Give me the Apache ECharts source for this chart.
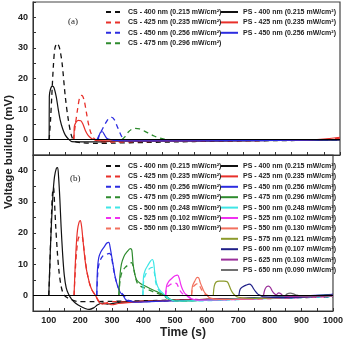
<!DOCTYPE html>
<html>
<head>
<meta charset="utf-8">
<script src="https://cdn.jsdelivr.net/npm/echarts@6/dist/echarts.min.js"></script>
<style>
  html, body { margin: 0; padding: 0; background: #fff; }
  #chart { width: 346px; height: 340px; }
</style>
</head>
<body>
<div id="chart"></div>
<script>
// x ticks / y ticks
const xTicks = [100, 200, 300, 400, 500, 600, 700, 800, 900, 1000]
const yTicks = [0, 10, 20, 30, 40]

// ---- panel (a) ----
const csA400 = [[100,0],[104,6],[108,14],[113,24],[118,30],[125,31.5],[132,30],[140,25],[150,14],[160,6],[170,1],[180,-0.6],[200,-1],[250,-1.2],[300,-1.1],[400,-0.9],[500,-0.7],[600,-0.5],[700,-0.4],[800,-0.3],[900,-0.2],[1000,0]]
const psA400 = [[100,0],[100.5,14],[104,16.5],[110,17.5],[115,17],[122,14],[128,10],[134,6.5],[142,3.5],[150,1.5],[160,0.2],[170,-0.6],[240,-0.7],[300,-0.5],[500,-0.4],[700,-0.3],[1000,-0.1]]
const csA425 = [[175,0],[180,4],[188,10],[195,14],[201,14.5],[208,13],[215,9],[222,5],[230,2],[240,0.3],[250,-0.5],[300,-0.8],[400,-0.6],[600,-0.4],[800,-0.2],[950,0],[1000,0.5]]
const psA425 = [[177,0],[177.5,4],[182,5.5],[190,6.3],[198,6.2],[205,5],[212,3],[220,1.5],[230,0.5],[240,0],[250,-0.3],[400,-0.4],[600,-0.3],[900,-0.1],[1000,0.8]]
const csA450 = [[248,0],[255,1.5],[265,3.5],[275,5.5],[285,7],[294,7.3],[302,6.5],[310,4.5],[318,2.5],[326,0.8],[335,0],[350,-0.3],[500,-0.4],[700,-0.3],[1000,-0.1]]
const psA450 = [[252,0],[255,1.5],[260,2.5],[265,2.6],[270,1.8],[278,0.5],[290,0],[310,-0.3],[500,-0.4],[800,-0.2],[1000,0]]
const csA475 = [[325,0],[335,1],[345,2.5],[355,3.4],[365,3.7],[380,3.5],[395,2.8],[410,2],[425,1.2],[440,0.6],[460,0.1],[480,-0.2],[600,-0.3],[800,-0.2],[1000,0]]

// ---- panel (b) ----
const csB400 = [[100,0],[103,8],[106,18],[109,27],[112,33],[115,34.5],[118,30],[122,22],[127,14],[132,8],[138,3.5],[145,0.8],[155,-0.5],[175,-1.5],[195,-2],[240,-2],[300,-1.9],[400,-1.7],[600,-1.3],[800,-0.9],[1000,-0.5]]
const psB400 = [[100,0],[104,12],[108,22],[113,32],[118,38],[124,40.7],[128,41],[131,38],[135,31],[139,22],[144,13],[149,6.5],[155,2.5],[162,0.5],[172,-1.2],[185,-2.5],[200,-3.5],[215,-4.2],[228,-4.5],[242,-4],[255,-3],[270,-2.5],[285,-2.8],[300,-2.6],[330,-2.2],[400,-1.9],[500,-1.6],[600,-1.3],[700,-1],[800,-0.7],[900,-0.4],[1000,-0.1]]
const csB425 = [[180,0],[184,8],[188,14],[193,18],[198,19],[205,19],[210,16],[216,11],[222,7],[230,3.5],[238,1.5],[248,0],[260,-2],[280,-2.5],[300,-2],[350,-2],[400,-1.8],[600,-1.3],[800,-0.8],[1000,-0.3]]
const psB425 = [[180,0],[183,8],[187,16],[191,21],[196,23.5],[200,24],[204,22],[208,18],[213,13],[218,9],[224,6],[230,3.5],[238,1.5],[248,0],[258,-2],[270,-2.8],[285,-2.5],[300,-3],[320,-2.6],[350,-2.3],[400,-2],[500,-1.6],[600,-1.3],[700,-1],[800,-0.7],[900,-0.3],[1000,0]]
const csB450 = [[252,0],[255,7],[260,10.5],[270,12.5],[280,13],[292,13.5],[298,12.5],[304,9],[310,6],[318,3],[328,1],[338,0],[350,-1.5],[400,-2],[500,-1.7],[600,-1.4],[800,-0.9],[1000,-0.3]]
const psB450 = [[252,0],[254,8],[258,12],[265,14],[275,15.5],[284,16.8],[290,17],[295,15],[300,12],[305,9],[311,5.5],[318,3],[326,1],[335,0],[345,-1.5],[360,-2],[380,-2.2],[420,-2],[500,-1.7],[600,-1.4],[700,-1],[800,-0.6],[900,-0.2],[1000,0.3]]
const csB475 = [[322,0],[326,5],[332,7.5],[342,9],[352,9.8],[362,10.5],[368,9],[374,6],[380,4],[390,3],[405,2.3],[420,1.6],[440,0.8],[460,0],[480,-1.2],[520,-1.8],[600,-1.5],[800,-0.8],[1000,-0.2]]
const psB475 = [[322,0],[325,6],[330,10],[338,12.5],[348,14],[358,15],[363,14.5],[367,10],[372,7],[378,5],[390,3.8],[405,3],[420,2.2],[440,1.3],[460,0.4],[475,-0.5],[490,-1.5],[520,-1.8],[600,-1.5],[700,-1.1],[800,-0.7],[900,-0.3],[1000,0.2]]
const csB500 = [[398,0],[401,5],[408,7],[418,8.5],[428,9],[434,7.5],[439,4],[446,2],[456,0.8],[466,0],[480,-1.2],[500,-1.8],[600,-1.7],[800,-1],[1000,-0.4]]
const psB500 = [[398,0],[400,6],[405,8],[413,9.5],[422,11],[428,11.5],[432,10.5],[436,7],[441,4],[448,2.2],[458,1],[468,0],[480,-1],[500,-1.8],[600,-1.6],[700,-1.2],[800,-0.8],[900,-0.4],[1000,-0.1]]
const csB525 = [[470,0],[474,2.5],[485,3.5],[498,4],[505,3.8],[510,2.8],[516,1.5],[524,0.5],[535,0],[550,-1],[600,-1.5],[800,-1],[1000,-0.3]]
const psB525 = [[470,0],[473,3],[480,4.5],[490,5.5],[500,6.3],[508,6.5],[513,5.5],[518,3.5],[524,1.8],[532,0.5],[540,0],[550,-1],[570,-1.5],[650,-1.4],[800,-0.9],[900,-0.5],[1000,-0.1]]
const csB550 = [[552,0],[556,2.5],[565,3.5],[572,3.8],[578,3],[584,1.8],[592,0.6],[602,0],[620,-1],[700,-1.3],[850,-0.8],[1000,-0.2]]
const psB550 = [[552,0],[555,3],[562,4.5],[570,5.8],[575,5.6],[580,4],[586,2.5],[593,1],[600,0.2],[610,-0.8],[640,-1.3],[700,-1.2],[800,-0.8],[900,-0.4],[1000,0]]
const psB575 = [[621,0],[624,3],[630,4.3],[640,4.6],[655,4.6],[665,4.4],[670,3.5],[676,2],[683,0.7],[690,0],[700,-0.6],[750,-1],[850,-0.7],[1000,0]]
const psB600 = [[702,0],[706,2],[715,2.8],[725,3.3],[735,3.6],[742,3.2],[748,2.2],[755,1.2],[762,0.4],[770,0],[780,-0.5],[850,-0.7],[950,-0.3],[1000,0.3]]
const psB625 = [[780,0],[784,1.8],[790,2.8],[796,3],[802,2.5],[807,1.5],[813,0.7],[820,0.2],[828,0.8],[834,0.6],[840,0],[860,-0.4],[950,-0.3],[1000,0]]
const psB650 = [[850,0],[855,0.5],[865,0.7],[875,0.5],[885,0.1],[900,-0.2],[1000,0]]

const C = {
  black: '#111111', red: '#e8302a', blue: '#2c2ce0', green: '#2e8b2e', cyan: '#3fe6e6',
  magenta: '#f030f0', salmon: '#f2705e', olive: '#8c9a2c', navy: '#1f1f88', purple: '#9a2f9a', gray: '#707070'
}

const line = (name, data, color, dashed, idx) => ({
  type: 'line',
  name,
  data,
  xAxisIndex: idx,
  yAxisIndex: idx,
  symbol: 'none',
  smooth: 0.3,
  color,
  lineStyle: { color, width: dashed ? 1.3 : 1.2, type: dashed ? [5, 4] : 'solid' },
  emphasis: { disabled: true }
})

const zero = {
  silent: true, symbol: 'none', label: { show: false },
  lineStyle: { color: '#000', type: 'solid', width: 1.2 },
  data: [{ yAxis: 0 }]
}

const csA = [
  line('CS - 400 nm (0.215 mW/cm²)', csA400, C.black, true, 0),
  line('CS - 425 nm (0.235 mW/cm²)', csA425, C.red, true, 0),
  line('CS - 450 nm (0.256 mW/cm²)', csA450, C.blue, true, 0),
  line('CS - 475 nm (0.296 mW/cm²)', csA475, C.green, true, 0)
]
const psA = [
  line('PS - 400 nm (0.215 mW/cm²)', psA400, C.black, false, 0),
  line('PS - 425 nm (0.235 mW/cm²)', psA425, C.red, false, 0),
  line('PS - 450 nm (0.256 mW/cm²)', psA450, C.blue, false, 0)
]
psA[0].markLine = zero
const csB = [
  line('CS - 400 nm (0.215 mW/cm²) ', csB400, C.black, true, 1),
  line('CS - 425 nm (0.235 mW/cm²) ', csB425, C.red, true, 1),
  line('CS - 450 nm (0.256 mW/cm²) ', csB450, C.blue, true, 1),
  line('CS - 475 nm (0.295 mW/cm²)', csB475, C.green, true, 1),
  line('CS - 500 nm (0.248 mW/cm²)', csB500, C.cyan, true, 1),
  line('CS - 525 nm (0.102 mW/cm²)', csB525, C.magenta, true, 1),
  line('CS - 550 nm (0.130 mW/cm²)', csB550, C.salmon, true, 1)
]
const psB = [
  line('PS - 400 nm (0.215 mW/cm²) ', psB400, C.black, false, 1),
  line('PS - 425 nm (0.235 mW/cm²) ', psB425, C.red, false, 1),
  line('PS - 450 nm (0.256 mW/cm²) ', psB450, C.blue, false, 1),
  line('PS - 475 nm (0.296 mW/cm²)', psB475, C.green, false, 1),
  line('PS - 500 nm (0.248 mW/cm²)', psB500, C.cyan, false, 1),
  line('PS - 525 nm (0.102 mW/cm²)', psB525, C.magenta, false, 1),
  line('PS - 550 nm (0.130 mW/cm²)', psB550, C.salmon, false, 1),
  line('PS - 575 nm (0.121 mW/cm²)', psB575, C.olive, false, 1),
  line('PS - 600 nm (0.107 mW/cm²)', psB600, C.navy, false, 1),
  line('PS - 625 nm (0.103 mW/cm²)', psB625, C.purple, false, 1),
  line('PS - 650 nm (0.090 mW/cm²)', psB650, C.gray, false, 1)
]
psB[0].markLine = zero

const legend = (series, left, top) => ({
  orient: 'vertical', left, top, padding: 0,
  itemWidth: 17, itemHeight: 8, itemGap: 2.4,
  selectedMode: false,
  itemStyle: { opacity: 0 },
  data: series.map(s => s.name),
  textStyle: { fontSize: 7, fontWeight: 'bold', color: '#222', fontFamily: 'Liberation Sans', lineHeight: 8 }
})

const xAxis = (idx, labels) => ({
  type: 'value', gridIndex: idx, min: 50, max: 1000, interval: 50,
  axisLine: { show: true, onZero: false, lineStyle: { color: '#333' } },
  axisTick: { show: true, inside: true, length: 3, lineStyle: { color: '#333' } },
  splitLine: { show: false },
  axisLabel: {
    show: labels, fontSize: 9, fontWeight: 'bold', color: '#222', fontFamily: 'Liberation Sans', margin: 5,
    formatter: v => xTicks.includes(v) ? String(v) : ''
  },
  name: labels ? 'Time (s)' : '', nameLocation: 'middle', nameGap: 16,
  nameTextStyle: { fontSize: 12, fontWeight: 'bold', color: '#222', fontFamily: 'Liberation Sans' }
})

const yAxis = idx => ({
  type: 'value', gridIndex: idx, min: -5, max: 45, interval: 5,
  axisLine: { show: true, lineStyle: { color: '#333' } },
  axisTick: { show: true, inside: true, length: 3, lineStyle: { color: '#333' } },
  splitLine: { show: false },
  axisLabel: {
    fontSize: 9, fontWeight: 'bold', color: '#222', fontFamily: 'Liberation Sans', margin: 5,
    formatter: v => yTicks.includes(v) ? String(v) : ''
  }
})

const chart = echarts.init(document.getElementById('chart'))
chart.setOption({
  animation: false,
  backgroundColor: '#fff',
  grid: [
    { left: 33, right: 6, top: 2, height: 153, show: true, borderColor: '#444', borderWidth: 1.2 },
    { left: 33, right: 6, top: 155, height: 157, show: true, borderColor: '#444', borderWidth: 1.2 }
  ],
  xAxis: [xAxis(0, false), xAxis(1, true)],
  yAxis: [yAxis(0), yAxis(1)],
  legend: [
    legend(csA, 105, 8),
    legend(psA, 220, 8),
    legend(csB, 105, 162),
    legend(psB, 220, 162)
  ],
  graphic: [
    { type: 'text', left: 68, top: 17, style: { text: '(a)', fontSize: 9, fontFamily: 'Liberation Serif', fill: '#222' } },
    { type: 'text', left: 70, top: 174, style: { text: '(b)', fontSize: 9, fontFamily: 'Liberation Serif', fill: '#222' } },
    {
      type: 'text', x: 9, y: 152, rotation: Math.PI / 2,
      style: { text: 'Voltage buildup (mV)', fontSize: 11.5, fontWeight: 'bold', fontFamily: 'Liberation Sans', fill: '#222', align: 'center', verticalAlign: 'middle' }
    }
  ],
  series: [...csA, ...psA, ...csB, ...psB]
})
</script>
</body>
</html>
